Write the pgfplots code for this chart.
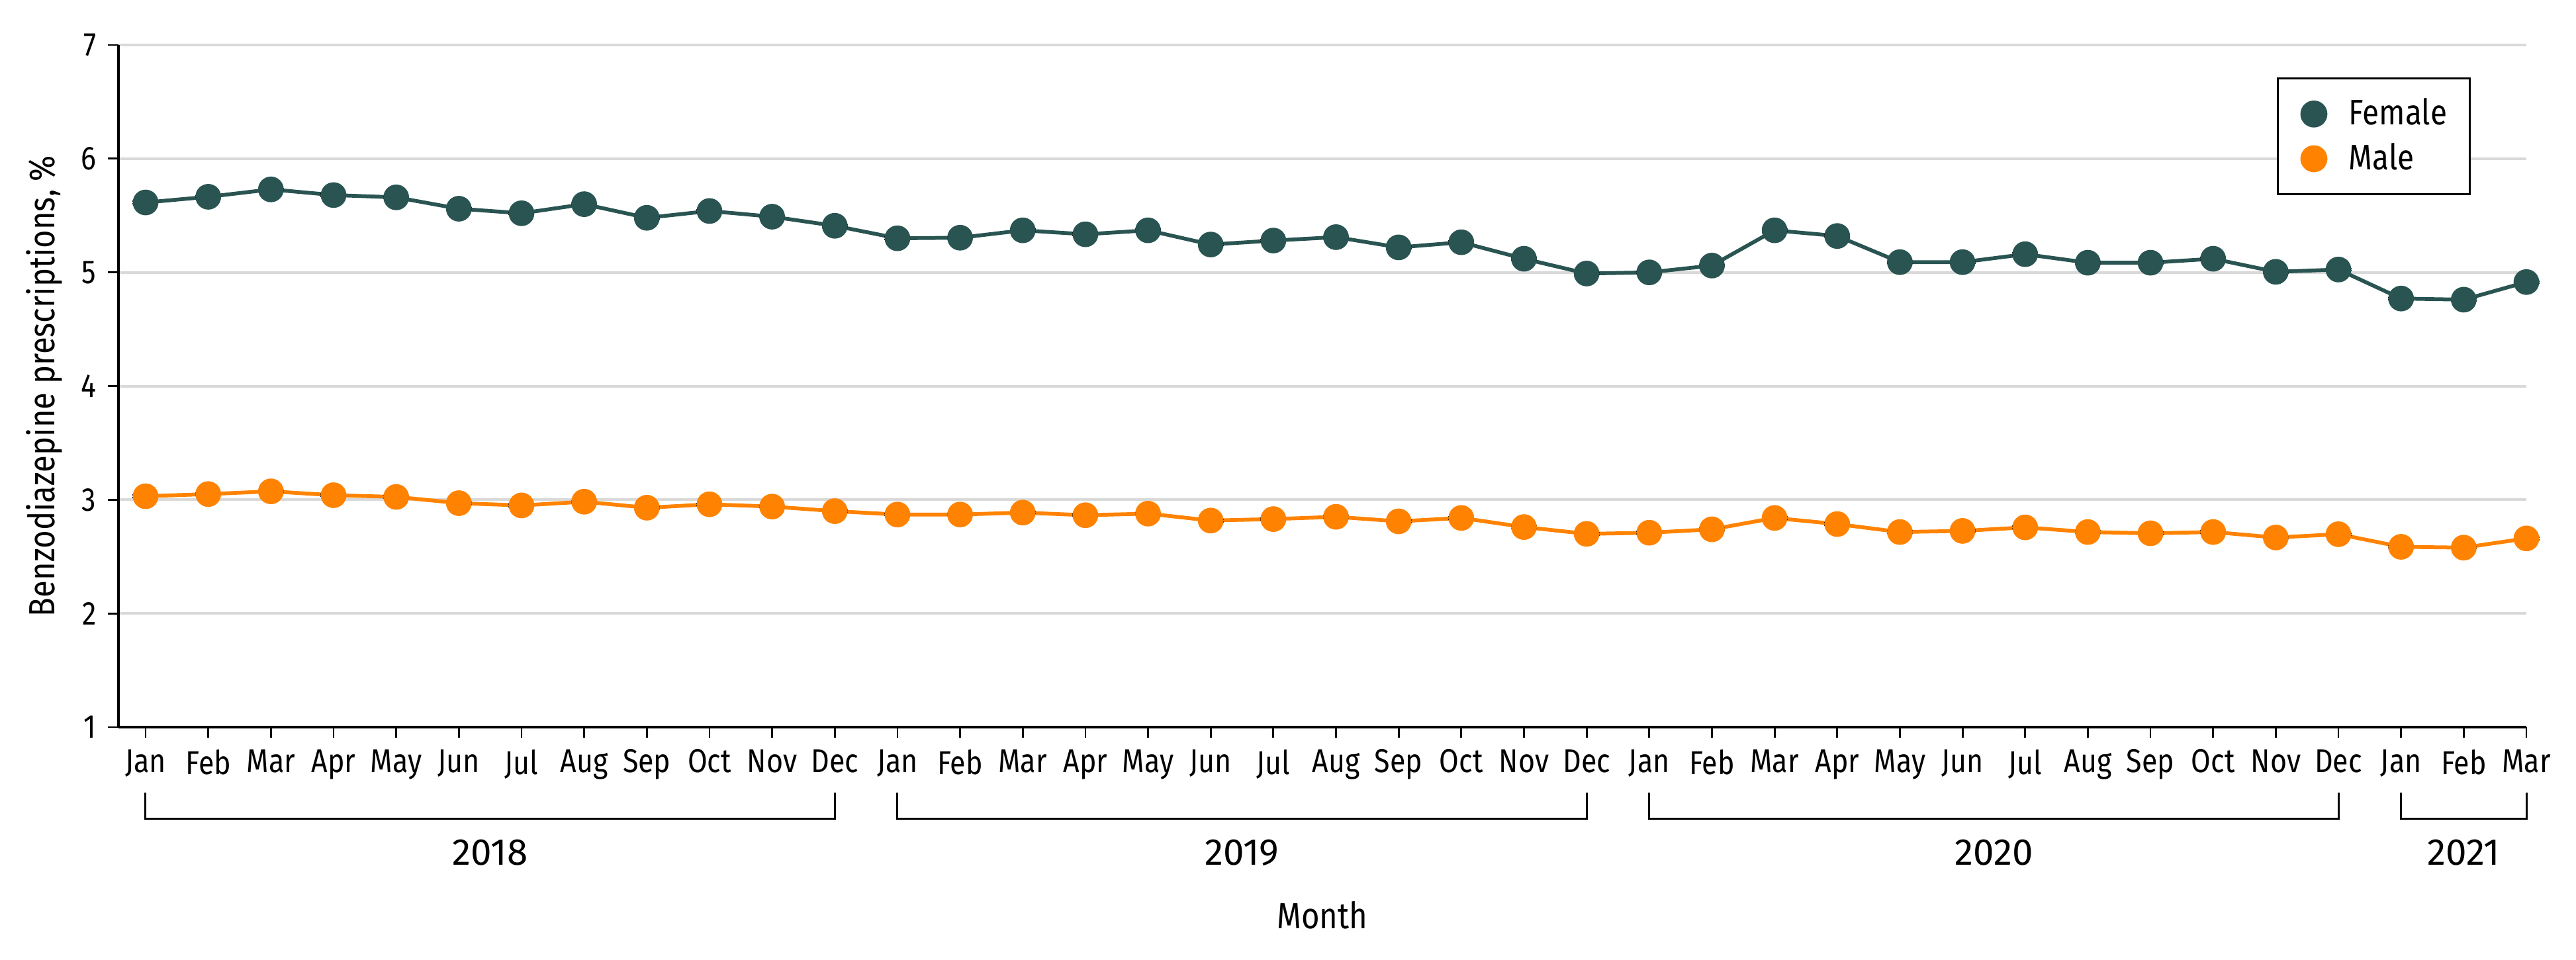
\documentclass[border=0pt]{standalone}
\usepackage{fontspec}
\setmainfont{Fira Sans}[FakeStretch=0.86]
\newfontfamily\widefont{Fira Sans}
\usepackage{pgfplots}
\usepackage{pgfplotstable}
\pgfplotsset{compat=1.18}
\definecolor{fem}{HTML}{295452}
\definecolor{mal}{HTML}{FF8300}
\definecolor{gridgray}{HTML}{D9D9D9}

\pgfplotstableread{
x f m
0 5.615 3.031
1 5.665 3.050
2 5.730 3.074
3 5.680 3.040
4 5.660 3.025
5 5.560 2.970
6 5.520 2.950
7 5.600 2.983
8 5.480 2.930
9 5.540 2.960
10 5.490 2.940
11 5.410 2.900
12 5.300 2.870
13 5.305 2.870
14 5.370 2.887
15 5.335 2.864
16 5.370 2.878
17 5.245 2.817
18 5.280 2.830
19 5.310 2.850
20 5.220 2.810
21 5.265 2.840
22 5.120 2.760
23 4.990 2.700
24 5.000 2.710
25 5.060 2.740
26 5.370 2.840
27 5.320 2.786
28 5.090 2.716
29 5.090 2.726
30 5.160 2.757
31 5.085 2.716
32 5.085 2.705
33 5.120 2.716
34 5.005 2.668
35 5.025 2.697
36 4.770 2.586
37 4.760 2.579
38 4.915 2.660
}\datatable

\begin{document}
\begin{tikzpicture}
\useasboundingbox (-35.8pt,-70.2pt) rectangle (742.6pt,219.8pt);
\begin{axis}[
  at={(0pt,0pt)}, anchor=south west,
  scale only axis, width=727.6pt, height=206.2pt,
  xmin=-0.433, xmax=38, ymin=1, ymax=7,
  clip=false,
  axis lines*=left,
  axis line style={line width=0.7pt, black},
  ytick={1,2,3,4,5,6,7},
  xtick={0,...,38},
  xticklabels={Jan,Feb,Mar,Apr,May,Jun,Jul,Aug,Sep,Oct,Nov,Dec,Jan,Feb,Mar,Apr,May,Jun,Jul,Aug,Sep,Oct,Nov,Dec,Jan,Feb,Mar,Apr,May,Jun,Jul,Aug,Sep,Oct,Nov,Dec,Jan,Feb,Mar},
  tick align=outside,
  major tick length=3.2pt,
  tick style={line width=0.55pt, black},
  ymajorgrids,
  grid style={gridgray, line width=0.8pt},
  /pgf/number format/assume math mode=true,
  tick label style={font=\fontsize{10}{12}\selectfont},
  ylabel={Benzodiazepine prescriptions, \%},
  every axis y label/.style={at={(axis description cs:-0.0308,0.5)}, rotate=90, anchor=center, font=\fontsize{11}{13}\selectfont},
  xlabel={Month},
  every axis x label/.style={at={(axis description cs:0.5,0)}, yshift=-56.8pt, anchor=center, font=\fontsize{11}{13}\selectfont},
  legend image code/.code={\path (-6.9pt,0pt) (6.5pt,0pt); \draw[#1, only marks, mark size=3.5pt] plot coordinates {(0pt,0pt)};},
  legend cell align=left,
  legend style={at={(axis description cs:0.8964,0.9525)}, anchor=north west,
    draw=black, line width=0.6pt, inner xsep=3.4pt, inner ysep=4.0pt, row sep=0pt,
    nodes={inner xsep=3.5pt, inner ysep=2pt, font=\fontsize{10.7}{12}\selectfont}},
  error bars/y dir=both,
  error bars/y fixed=0.01,
  error bars/error mark options={rotate=90, black, mark size=3.9pt, line width=0.4pt},
  error bars/error bar style={black, line width=0.4pt},
]
\addplot[fem, line width=1.15pt, mark=*, mark size=3.3pt, mark options={solid, fill=fem, draw=fem}] table[x=x, y=f] {\datatable};
\addlegendentry{Female}
\addplot[mal, line width=1.15pt, mark=*, mark size=3.3pt, mark options={solid, fill=mal, draw=mal}] table[x=x, y=m] {\datatable};
\addlegendentry{Male}

\draw[line width=0.6pt] ([yshift=-19.8pt]axis cs:0,1) -- ([yshift=-27.6pt]axis cs:0,1) -- ([yshift=-27.6pt]axis cs:11,1) -- ([yshift=-19.8pt]axis cs:11,1);
\draw[line width=0.6pt] ([yshift=-19.8pt]axis cs:12,1) -- ([yshift=-27.6pt]axis cs:12,1) -- ([yshift=-27.6pt]axis cs:23,1) -- ([yshift=-19.8pt]axis cs:23,1);
\draw[line width=0.6pt] ([yshift=-19.8pt]axis cs:24,1) -- ([yshift=-27.6pt]axis cs:24,1) -- ([yshift=-27.6pt]axis cs:35,1) -- ([yshift=-19.8pt]axis cs:35,1);
\draw[line width=0.6pt] ([yshift=-19.8pt]axis cs:36,1) -- ([yshift=-27.6pt]axis cs:36,1) -- ([yshift=-27.6pt]axis cs:38,1) -- ([yshift=-19.8pt]axis cs:38,1);
\node[font=\widefont\fontsize{11.3}{13}\selectfont, anchor=center] at ([yshift=-38pt]axis cs:5.5,1) {2018};
\node[font=\widefont\fontsize{11.3}{13}\selectfont, anchor=center] at ([yshift=-38pt]axis cs:17.5,1) {2019};
\node[font=\widefont\fontsize{11.3}{13}\selectfont, anchor=center] at ([yshift=-38pt]axis cs:29.5,1) {2020};
\node[font=\widefont\fontsize{11.3}{13}\selectfont, anchor=center] at ([yshift=-38pt]axis cs:37,1) {2021};
\end{axis}
\end{tikzpicture}
\end{document}
